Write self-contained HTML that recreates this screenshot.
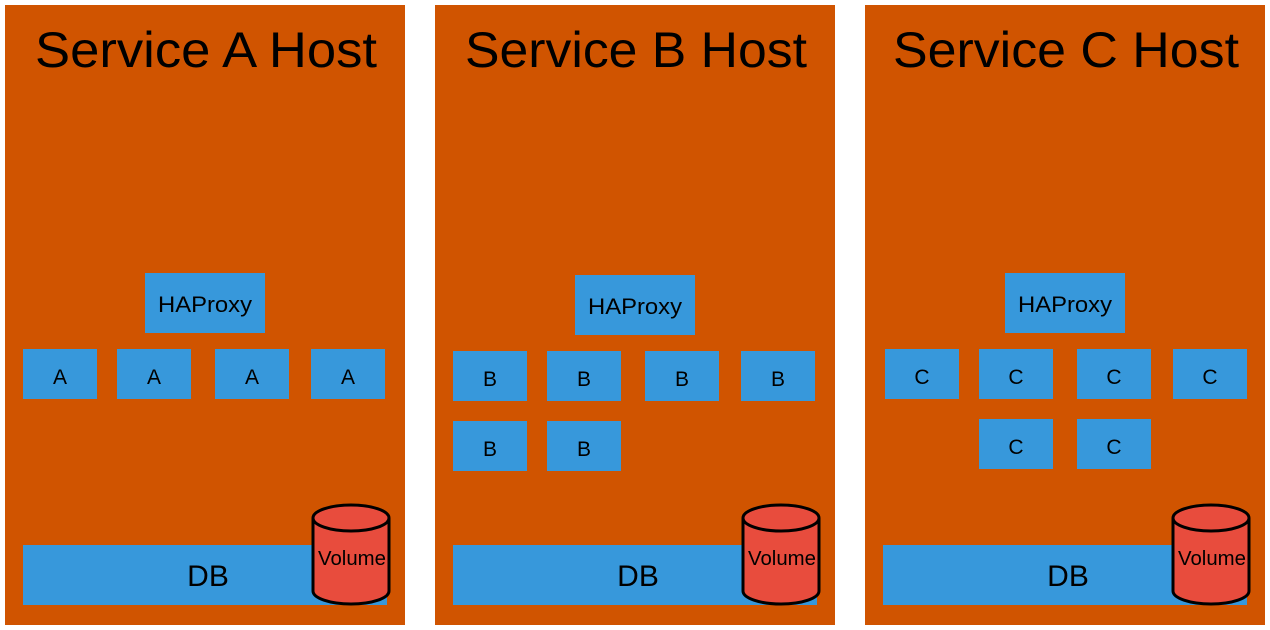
<!DOCTYPE html>
<html><head><meta charset="utf-8"><style>html,body{margin:0;padding:0;background:#fff;width:1270px;height:630px;overflow:hidden}</style></head>
<body>
<svg width="1270" height="630" viewBox="0 0 1270 630" xmlns="http://www.w3.org/2000/svg" font-family="Liberation Sans, Arial, sans-serif">
<g fill="#d05400">
<rect x="5" y="5" width="400" height="620"/>
<rect x="435" y="5" width="400" height="620"/>
<rect x="865" y="5" width="400" height="620"/>
</g>
<g font-size="50" fill="#000">
<text x="35" y="67" textLength="342" lengthAdjust="spacingAndGlyphs">Service A Host</text>
<text x="465" y="67" textLength="342" lengthAdjust="spacingAndGlyphs">Service B Host</text>
<text x="893" y="67" textLength="346" lengthAdjust="spacingAndGlyphs">Service C Host</text>
</g>
<g fill="#3798db">
<rect x="145" y="273" width="120" height="60"/>
<rect x="23" y="349" width="74" height="50"/><rect x="117" y="349" width="74" height="50"/><rect x="215" y="349" width="74" height="50"/><rect x="311" y="349" width="74" height="50"/>
<rect x="23" y="545" width="364" height="60"/>

<rect x="575" y="275" width="120" height="60"/>
<rect x="453" y="351" width="74" height="50"/><rect x="547" y="351" width="74" height="50"/><rect x="645" y="351" width="74" height="50"/><rect x="741" y="351" width="74" height="50"/>
<rect x="453" y="421" width="74" height="50"/><rect x="547" y="421" width="74" height="50"/>
<rect x="453" y="545" width="364" height="60"/>

<rect x="1005" y="273" width="120" height="60"/>
<rect x="885" y="349" width="74" height="50"/><rect x="979" y="349" width="74" height="50"/><rect x="1077" y="349" width="74" height="50"/><rect x="1173" y="349" width="74" height="50"/>
<rect x="979" y="419" width="74" height="50"/><rect x="1077" y="419" width="74" height="50"/>
<rect x="883" y="545" width="364" height="60"/>
</g>
<g font-size="22" fill="#000">
<text x="158" y="312" textLength="94" lengthAdjust="spacingAndGlyphs">HAProxy</text>
<text x="588" y="314" textLength="94" lengthAdjust="spacingAndGlyphs">HAProxy</text>
<text x="1018" y="312" textLength="94" lengthAdjust="spacingAndGlyphs">HAProxy</text>
</g>
<g font-size="21" text-anchor="middle" fill="#000">
<text x="60" y="384">A</text><text x="154" y="384">A</text><text x="252" y="384">A</text><text x="348" y="384">A</text>
<text x="490" y="386">B</text><text x="584" y="386">B</text><text x="682" y="386">B</text><text x="778" y="386">B</text>
<text x="490" y="456">B</text><text x="584" y="456">B</text>
<text x="922" y="384">C</text><text x="1016" y="384">C</text><text x="1114" y="384">C</text><text x="1210" y="384">C</text>
<text x="1016" y="454">C</text><text x="1114" y="454">C</text>
</g>
<g font-size="30" text-anchor="middle" fill="#000">
<text x="208" y="586">DB</text>
<text x="638" y="586">DB</text>
<text x="1068" y="586">DB</text>
</g>
<g fill="#e84c3d" stroke="#000" stroke-width="3">
<path d="M313 518 A38 13 0 0 1 389 518 L389 591 A38 13 0 0 1 313 591 Z"/>
<path d="M313 518 A38 13 0 0 0 389 518" fill="none"/>
<path d="M743 518 A38 13 0 0 1 819 518 L819 591 A38 13 0 0 1 743 591 Z"/>
<path d="M743 518 A38 13 0 0 0 819 518" fill="none"/>
<path d="M1173 518 A38 13 0 0 1 1249 518 L1249 591 A38 13 0 0 1 1173 591 Z"/>
<path d="M1173 518 A38 13 0 0 0 1249 518" fill="none"/>
</g>
<g font-size="20" fill="#000">
<text x="318" y="565" textLength="68" lengthAdjust="spacingAndGlyphs">Volume</text>
<text x="748" y="565" textLength="68" lengthAdjust="spacingAndGlyphs">Volume</text>
<text x="1178" y="565" textLength="68" lengthAdjust="spacingAndGlyphs">Volume</text>
</g>
</svg>
</body></html>
